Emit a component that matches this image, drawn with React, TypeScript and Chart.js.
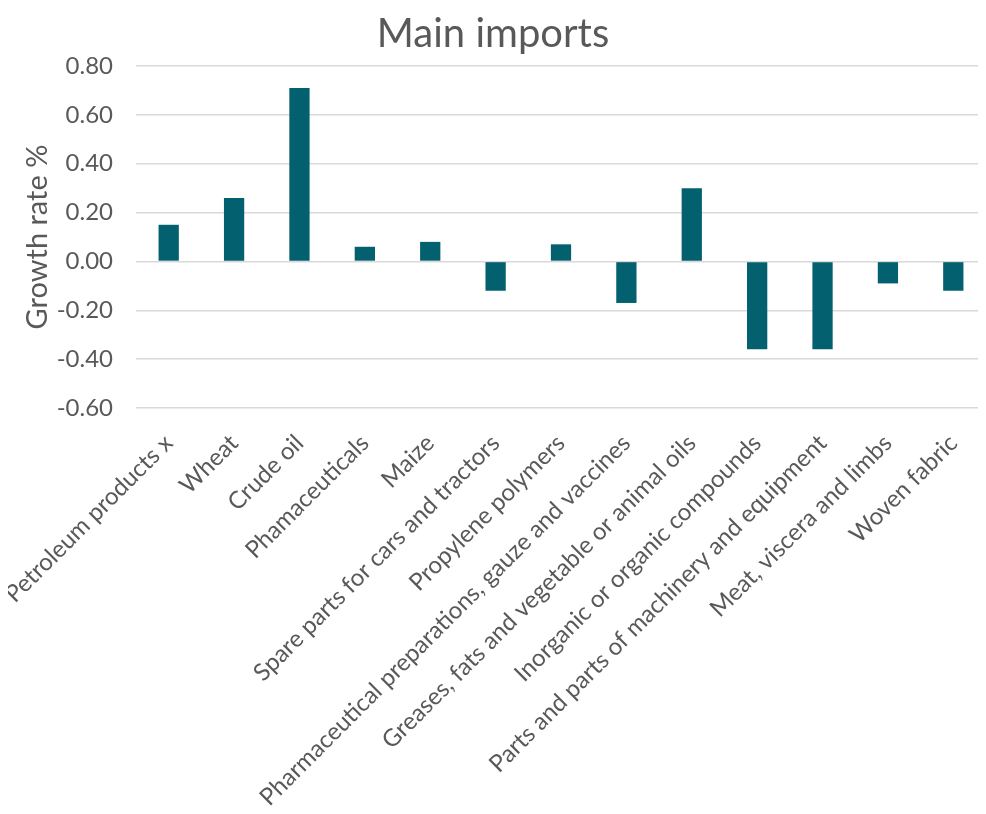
import React, { useEffect, useRef } from "react";
import { Chart, registerables } from "chart.js";

Chart.register(...registerables);

const categories = [
  "Petroleum products x",
  "Wheat",
  "Crude oil",
  "Phamaceuticals",
  "Maize",
  "Spare parts for cars and tractors",
  "Propylene polymers",
  "Pharmaceutical preparations, gauze and vaccines",
  "Greases, fats and vegetable or animal oils",
  "Inorganic or organic compounds",
  "Parts and parts of machinery and equipment",
  "Meat, viscera and limbs",
  "Woven fabric",
];

const growthRate = [0.15, 0.26, 0.71, 0.06, 0.08, -0.12, 0.07, -0.17, 0.3, -0.36, -0.36, -0.09, -0.12];

const yTicks = { min: -0.6, max: 0.8, step: 0.2 };

const FONT = "Lato, 'DejaVu Sans', sans-serif";
const TEXT = "#595959";

export default function App() {
  const ref = useRef<HTMLCanvasElement | null>(null);
  useEffect(() => {
    if (!ref.current) return;
    const chart = new Chart(ref.current, {
      type: "bar",
      data: {
        labels: categories,
        datasets: [
          {
            label: "Growth rate %",
            data: growthRate,
            backgroundColor: "#02606F",
            borderColor: "#02606F",
            borderWidth: 0,
            categoryPercentage: 1,
            barPercentage: 0.31,
          },
        ],
      },
      options: {
        animation: false,
        responsive: false,
        maintainAspectRatio: false,
        layout: { padding: { left: 0, right: 0, top: 10, bottom: 0 } },
        plugins: {
          legend: { display: false },
          tooltip: { enabled: false },
          title: {
            display: true,
            text: "Main imports",
            color: TEXT,
            font: { family: FONT, size: 40, weight: "normal" },
            padding: { top: 0, bottom: 8 },
          },
        },
        scales: {
          x: {
            grid: { display: false, drawTicks: false },
            border: { display: false },
            afterFit: (scale: any) => {
              scale.height = 406;
              scale.paddingLeft = 0;
              scale.paddingRight = 0;
            },
            ticks: {
              color: TEXT,
              font: { family: FONT, size: 24 },
              maxRotation: 45,
              minRotation: 45,
              autoSkip: false,
              padding: 21,
            },
          },
          y: {
            min: yTicks.min,
            max: yTicks.max,
            grid: { color: "#d9d9d9", lineWidth: 1.5, drawTicks: false },
            border: { display: false },
            afterFit: (scale: any) => {
              scale.width = 136;
            },
            ticks: {
              stepSize: yTicks.step,
              color: TEXT,
              font: { family: FONT, size: 24 },
              padding: 23,
              callback: (v: any) => Number(v).toFixed(2),
            },
            title: {
              display: true,
              text: "Growth rate %",
              color: TEXT,
              font: { family: FONT, size: 29 },
              padding: { top: 20, bottom: 0 },
            },
          },
        },
      },
    });
    return () => chart.destroy();
  }, []);
  return (
    <div style={{ width: 986, height: 814, marginLeft: -8, marginTop: -8, background: "#fff" }}>
      <canvas ref={ref} width={986} height={814} style={{ width: 986, height: 814, display: "block" }} />
    </div>
  );
}
